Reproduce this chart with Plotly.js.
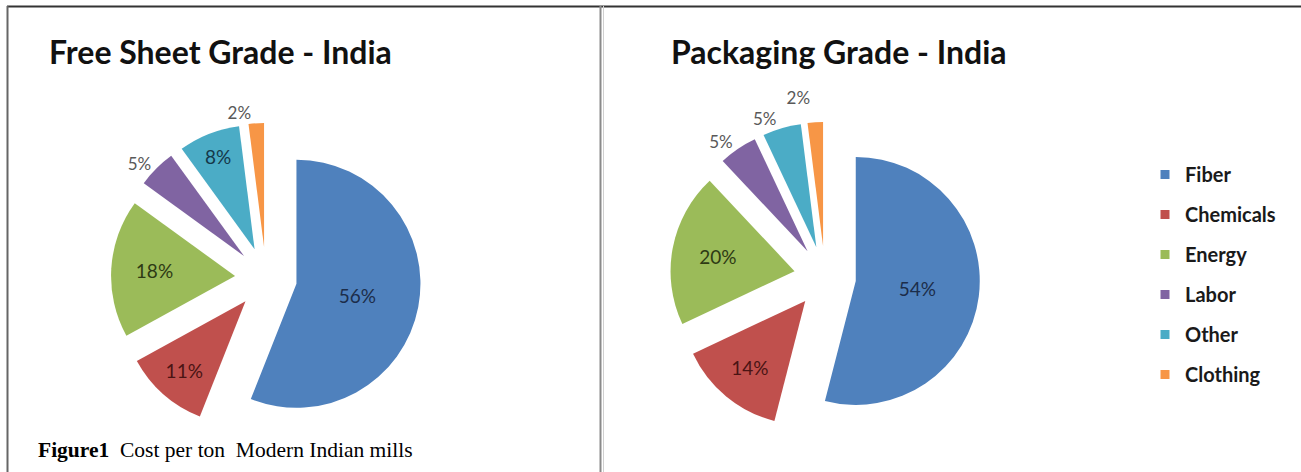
<!DOCTYPE html>
<html><head><meta charset="utf-8">
<script src="https://cdn.plot.ly/plotly-3.0.1.min.js"></script>
<style>html,body{margin:0;padding:0;background:#fff}#chart{width:1301px;height:472px}#chart path.textline{display:none}</style>
</head><body><div id="chart"></div>
<script>
// ---- data ----
const categories = ['Fiber', 'Chemicals', 'Energy', 'Labor', 'Other', 'Clothing'];
const freeSheetValues = [56, 11, 18, 5, 8, 2];
const packagingValues = [54, 14, 20, 5, 5, 2];
const chartTitles = ['Free Sheet Grade - India', 'Packaging Grade - India'];
const captionBold = 'Figure1';
const captionText = 'Cost per ton  Modern Indian mills';

// ---- style ----
const W = 1301, H = 472;
const colors = ['#4F81BD', '#C0504D', '#9BBB59', '#8064A2', '#4BACC6', '#F79646'];
const insideColors = ['#1c2d4a', '#4a1414', '#2e3a14', '#222222', '#15384a', '#222222'];
const px = x => x / W;
const py = y => 1 - y / H;
const PULL = 0.25;

function pieDomain(cx, cy, r) {
  const half = r * (1 + PULL);
  return { x: [px(cx - half), px(cx + half)], y: [py(cy + half), py(cy - half)] };
}

function pieTrace(values, domain, positions) {
  return {
    type: 'pie',
    labels: categories,
    values: values,
    sort: false,
    direction: 'clockwise',
    rotation: 0,
    pull: PULL,
    domain: domain,
    showlegend: false,
    marker: { colors: colors, line: { width: 0 } },
    textinfo: 'percent',
    textposition: positions,
    insidetextorientation: 'horizontal',
    insidetextfont: { family: 'Lato', size: 19, color: insideColors },
    outsidetextfont: { family: 'Lato', size: 17, color: '#595959' },
    hoverinfo: 'label+percent'
  };
}

const traces = [
  pieTrace(freeSheetValues, pieDomain(266, 278, 124),
    ['inside', 'inside', 'inside', 'outside', 'inside', 'outside']),
  pieTrace(packagingValues, pieDomain(825, 277, 124),
    ['inside', 'inside', 'inside', 'outside', 'outside', 'outside'])
];

// legend entries
categories.forEach((c, i) => {
  traces.push({
    type: 'scatter', mode: 'markers', x: [null], y: [null],
    name: c, legendgroup: 'g' + i,
    marker: { symbol: 'square', size: 9, color: colors[i] },
    hoverinfo: 'skip'
  });
});

const layout = {
  width: W, height: H,
  margin: { l: 0, r: 0, t: 0, b: 0 },
  paper_bgcolor: '#ffffff', plot_bgcolor: '#ffffff',
  xaxis: { visible: false, range: [0, 1] },
  yaxis: { visible: false, range: [0, 1] },
  showlegend: true,
  legend: {
    x: px(1145), xanchor: 'left', y: py(155), yanchor: 'top',
    font: { family: 'Lato', size: 20, color: '#1a1a1a', weight: 'bold' },
    tracegroupgap: 11, bgcolor: 'rgba(0,0,0,0)'
  },
  annotations: [
    { text: chartTitles[0], xref: 'paper', yref: 'paper', x: px(47), y: py(51), xanchor: 'left', yanchor: 'middle',
      showarrow: false, font: { family: 'Lato', size: 32, color: '#111111', weight: 'bold' } },
    { text: chartTitles[1], xref: 'paper', yref: 'paper', x: px(669), y: py(51), xanchor: 'left', yanchor: 'middle',
      showarrow: false, font: { family: 'Lato', size: 32, color: '#111111', weight: 'bold' } },
    { text: '<b>' + captionBold + '</b>\u00a0\u00a0' + captionText.replace(/ /g, '\u00a0'), xref: 'paper', yref: 'paper',
      x: px(36), y: py(450), xanchor: 'left', yanchor: 'middle',
      showarrow: false, font: { family: 'Liberation Serif', size: 21.5, color: '#000000' } }
  ],
  shapes: [
    { type: 'line', xref: 'paper', yref: 'paper', x0: px(7), x1: 1, y0: py(6.5), y1: py(6.5), line: { color: '#333333', width: 2 } },
    { type: 'line', xref: 'paper', yref: 'paper', x0: px(7.5), x1: px(7.5), y0: py(6), y1: 0, line: { color: '#666666', width: 2 } },
    { type: 'line', xref: 'paper', yref: 'paper', x0: px(600.5), x1: px(600.5), y0: py(6), y1: 0, line: { color: '#8a8a8a', width: 2 } },
    { type: 'line', xref: 'paper', yref: 'paper', x0: px(603.5), x1: px(603.5), y0: py(6), y1: 0, line: { color: '#d0d0d0', width: 1 } }
  ]
};

Plotly.newPlot('chart', traces, layout, { displayModeBar: false, staticPlot: true });
</script></body></html>
